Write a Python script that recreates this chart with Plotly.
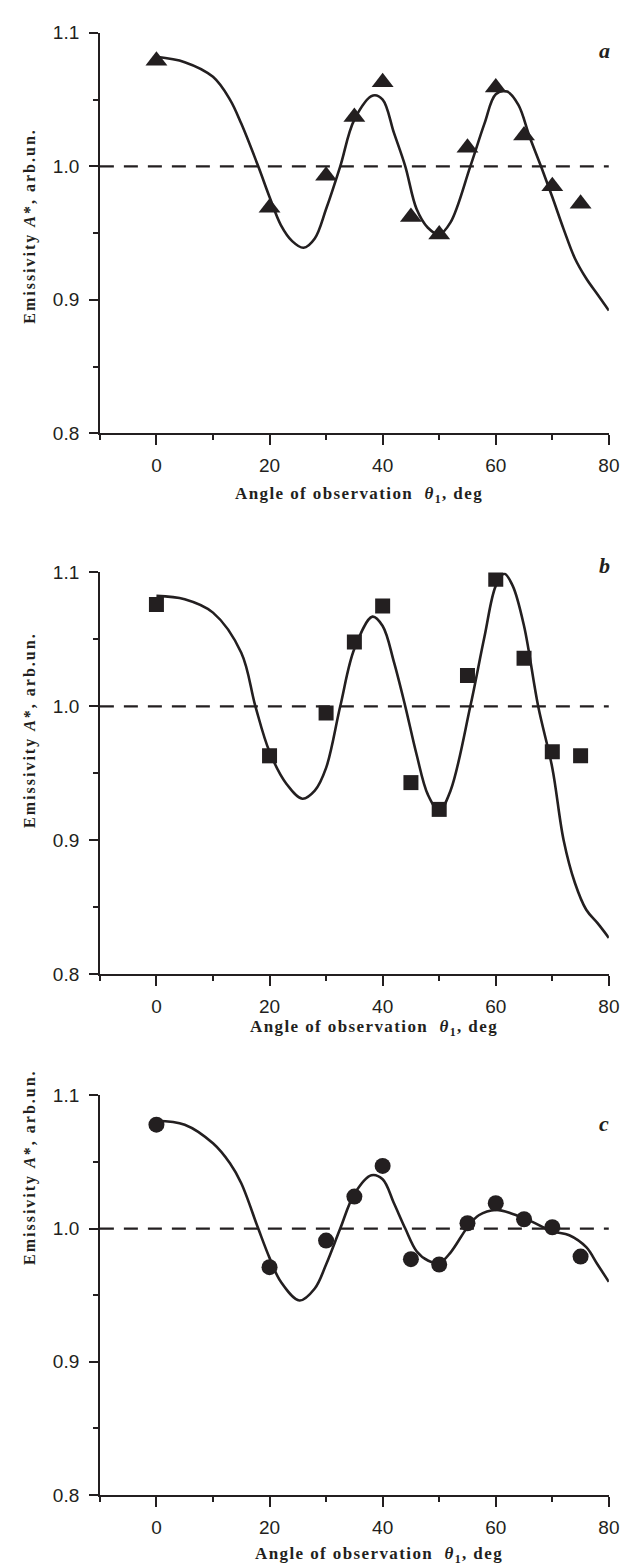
import plotly.graph_objects as go

# ---------------- data ----------------
angles = [0, 20, 30, 35, 40, 45, 50, 55, 60, 65, 70, 75]

meas_a = [1.079, 0.969, 0.993, 1.037, 1.063, 0.962, 0.949, 1.014, 1.059, 1.023, 0.985, 0.972]
meas_b = [1.076, 0.963, 0.995, 1.048, 1.075, 0.943, 0.923, 1.023, 1.095, 1.036, 0.966, 0.963]
meas_c = [1.078, 0.971, 0.991, 1.024, 1.047, 0.977, 0.973, 1.004, 1.019, 1.007, 1.001, 0.979]

fit_a_x = [0, 5, 10, 13, 15, 18, 20, 22, 24, 26, 28, 30, 32.5, 35, 38.3, 40, 42, 44, 46, 48,
           50, 52, 55.5, 58, 60, 62, 64, 66, 68, 70, 72, 74, 76, 78, 80]
fit_a_y = [1.082, 1.078, 1.067, 1.050, 1.032, 1.000, 0.977, 0.956, 0.944, 0.939, 0.946, 0.968,
           1.000, 1.035, 1.053, 1.050, 1.025, 1.000, 0.968, 0.954, 0.949, 0.958, 1.000, 1.032,
           1.054, 1.056, 1.046, 1.022, 1.000, 0.977, 0.953, 0.931, 0.916, 0.904, 0.892]

fit_b_x = [0, 5, 10, 15, 17.5, 20, 23, 25.8, 28, 30, 32.5, 35, 38.2, 40, 42, 44, 46, 48, 50,
           52, 55.5, 58, 60, 61.5, 63, 65, 67.5, 70, 72, 74, 76, 78, 80]
fit_b_y = [1.0825, 1.080, 1.070, 1.040, 1.000, 0.966, 0.942, 0.931, 0.937, 0.954, 1.000, 1.043,
           1.067, 1.060, 1.033, 1.000, 0.964, 0.934, 0.922, 0.937, 1.000, 1.052, 1.090, 1.099,
           1.090, 1.060, 1.000, 0.954, 0.900, 0.868, 0.848, 0.838, 0.827]

fit_c_x = [0, 5, 10, 13, 15, 18, 20, 22, 25.3, 28, 30, 32.5, 35, 38, 40, 42, 44, 46, 48, 50,
           52, 55, 57, 60, 63, 66, 70, 73, 76, 78, 80]
fit_c_y = [1.081, 1.078, 1.064, 1.049, 1.034, 1.000, 0.978, 0.960, 0.946, 0.955, 0.973, 1.000,
           1.026, 1.040, 1.037, 1.019, 1.000, 0.983, 0.976, 0.974, 0.982, 1.001, 1.010, 1.014,
           1.011, 1.006, 0.998, 0.995, 0.986, 0.973, 0.960]

ref_x = [-10, 80]
ref_level = [1.0, 1.0]

x_range = [-10, 80]
y_range = [0.8, 1.1]
x_ticks = [0, 20, 40, 60, 80]
x_minor = [-10, 10, 30, 50, 70]
y_ticks = [0.8, 0.9, 1.0, 1.1]
y_minor = [0.85, 0.95, 1.05]
y_ticklabels = ["0.8", "0.9", "1.0", "1.1"]
panel_letters = ["a", "b", "c"]

# ---------------- layout helpers ----------------
W, H = 633, 1568
INK = "#231f20"


def px(x):
    return x / W


def py(y):
    return 1 - y / H


x_dom = [px(93.5), px(611.5)]
panels = [
    dict(top=15, bottom=421, meas=meas_a, fx=fit_a_x, fy=fit_a_y, sym="triangle-up", size=19,
         ytitle=211, xtitle_y=483, xtitle_x=357, letter_y=33),
    dict(top=562, bottom=969, meas=meas_b, fx=fit_b_x, fy=fit_b_y, sym="square", size=15,
         ytitle=722, xtitle_y=1024, xtitle_x=372, letter_y=555),
    dict(top=1092, bottom=1497, meas=meas_c, fx=fit_c_x, fy=fit_c_y, sym="circle", size=16,
         ytitle=1165, xtitle_y=1558, xtitle_x=378, letter_y=1121),
]

fig = go.Figure()
annotations = []
layout = dict(
    width=W, height=H,
    margin=dict(l=0, r=0, t=0, b=0),
    paper_bgcolor="white", plot_bgcolor="white",
    showlegend=False,
)

for i, p in enumerate(panels):
    n = "" if i == 0 else str(i + 1)
    xa, ya = "x" + n, "y" + n
    # dashed reference level
    fig.add_trace(go.Scatter(x=ref_x, y=ref_level, mode="lines", xaxis=xa, yaxis=ya,
                             line=dict(color=INK, width=2.2, dash="14px,10px"),
                             hoverinfo="skip"))
    # fitted curve
    fig.add_trace(go.Scatter(x=p["fx"], y=p["fy"], mode="lines", xaxis=xa, yaxis=ya,
                             line=dict(color=INK, width=2.6, shape="spline", smoothing=1.0)))
    # measured points
    fig.add_trace(go.Scatter(x=angles, y=p["meas"], mode="markers", xaxis=xa, yaxis=ya,
                             marker=dict(symbol=p["sym"], size=p["size"], color=INK,
                                         line=dict(width=0))))

    layout["xaxis" + n] = dict(
        domain=x_dom, anchor=ya, range=x_range, tickvals=x_ticks,
        showline=True, linecolor=INK, linewidth=1.6, zeroline=False, showgrid=False,
        ticks="outside", ticklen=10, tickwidth=1.6, tickcolor=INK,
        minor=dict(tickvals=x_minor, ticks="outside", ticklen=5,
                   tickwidth=1.6, tickcolor=INK, showgrid=False),
        tickfont=dict(family="Liberation Sans, Arial", size=19, color=INK),
        ticklabelstandoff=4,
    )
    layout["yaxis" + n] = dict(
        domain=[py(p["bottom"]), py(p["top"])], anchor=xa, range=y_range,
        tickvals=y_ticks, ticktext=y_ticklabels,
        showline=True, linecolor=INK, linewidth=1.6, zeroline=False, showgrid=False,
        ticks="outside", ticklen=9, tickwidth=1.6, tickcolor=INK,
        minor=dict(tickvals=y_minor, ticks="outside", ticklen=5,
                   tickwidth=1.6, tickcolor=INK, showgrid=False),
        tickfont=dict(family="Liberation Sans, Arial", size=19, color=INK),
        ticklabelstandoff=6,
    )

    annotations.append(dict(
        text='<span style="letter-spacing:2px"><b>Emissivity <i>A</i>*, arb.un.</b></span>',
        x=px(23), y=py(p["ytitle"]), xref="paper", yref="paper", textangle=-90,
        showarrow=False, xanchor="center", yanchor="middle",
        font=dict(family="Liberation Serif, Times New Roman", size=16, color=INK)))
    annotations.append(dict(
        text='<span style="letter-spacing:1.4px"><b>Angle of observation\u00a0\u00a0<i>θ</i><sub>1</sub>, deg</b></span>',
        x=px(p["xtitle_x"]), y=py(p["xtitle_y"]), xref="paper", yref="paper",
        showarrow=False, xanchor="center", yanchor="middle",
        font=dict(family="Liberation Serif, Times New Roman", size=17, color=INK)))
    annotations.append(dict(
        text="<b><i>" + panel_letters[i] + "</i></b>",
        x=px(607), y=py(p["letter_y"]), xref="paper", yref="paper",
        showarrow=False, xanchor="center", yanchor="middle",
        font=dict(family="Liberation Serif, Times New Roman", size=22, color=INK)))

layout["annotations"] = annotations
fig.update_layout(**layout)
fig.write_html("out.html")
